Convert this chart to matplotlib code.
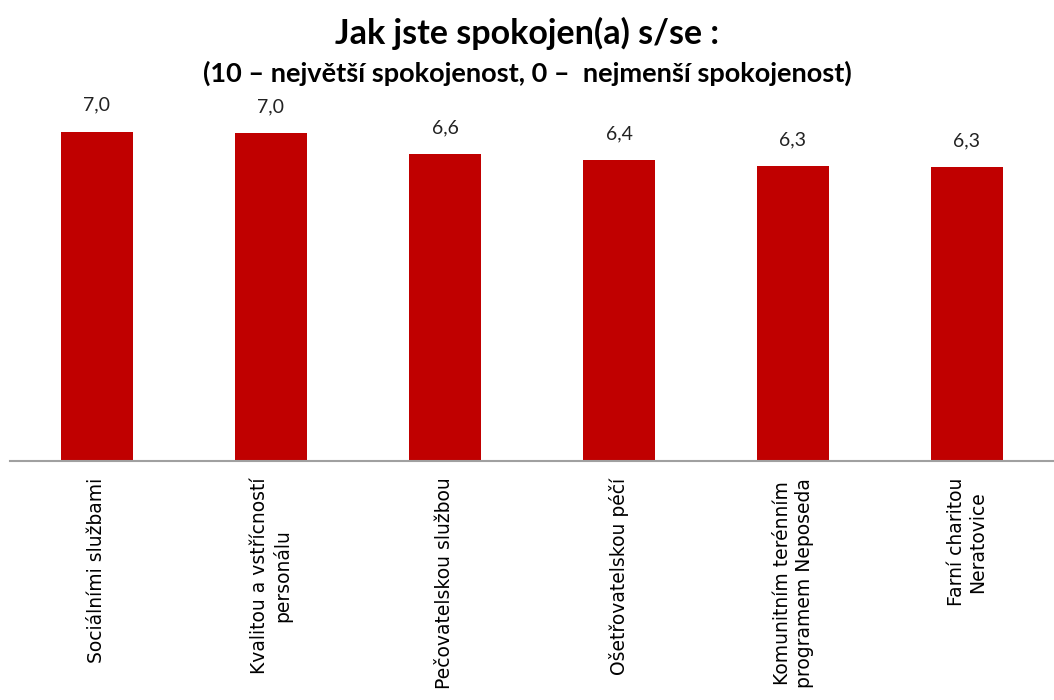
import numpy as np
import matplotlib.pyplot as plt

# hodnoty
kategorie = [
    "Sociálními službami",
    "Kvalitou a vstřícností\npersonálu",
    "Pečovatelskou službou",
    "Ošetřovatelskou péčí",
    "Komunitním terénním\nprogramem Neposeda",
    "Farní charitou\nNeratovice",
]
hodnoty = [7.04, 7.01, 6.56, 6.43, 6.30, 6.28]

titulek = "Jak jste spokojen(a) s/se :"
podtitulek = "(10 – největší spokojenost, 0 –  nejmenší spokojenost)"

pismo = ["Lato", "DejaVu Sans"]

fig = plt.figure(figsize=(10.54, 7.0), dpi=100)
# osa: dole 461 px, nahoře ~87 px
ax = fig.add_axes([10 / 1054, (700 - 461) / 700, 1044 / 1054, 374 / 700])

x = np.arange(len(kategorie))
ax.bar(x, hodnoty, width=0.41, color="#C00000")

for xi, v in zip(x, hodnoty):
    ax.annotate(("%.1f" % v).replace(".", ","), (xi, v), xytext=(0, 13),
                textcoords="offset points", ha="center", va="bottom",
                fontsize=14, color="#222222", family=pismo)

ax.set_xlim(-0.5, len(kategorie) - 0.5)
ax.set_ylim(0, 8)
ax.set_xticks(x)
ax.set_xticklabels(kategorie, rotation=90, fontsize=13.5, ha="center", va="top")
ax.tick_params(axis="x", length=0, pad=12)
ax.set_yticks([])
for s in ["top", "left", "right"]:
    ax.spines[s].set_visible(False)
ax.spines["bottom"].set_color("#a0a0a0")
ax.spines["bottom"].set_linewidth(1.5)

fig.text(0.5, 1 - 33 / 700, titulek, ha="center", va="center", fontsize=24.5,
         fontweight="bold", family=pismo)
fig.text(0.5, 1 - 73 / 700, podtitulek, ha="center", va="center", fontsize=19.5,
         fontweight="bold", family=pismo)

fig.savefig("out.png", dpi=100)
